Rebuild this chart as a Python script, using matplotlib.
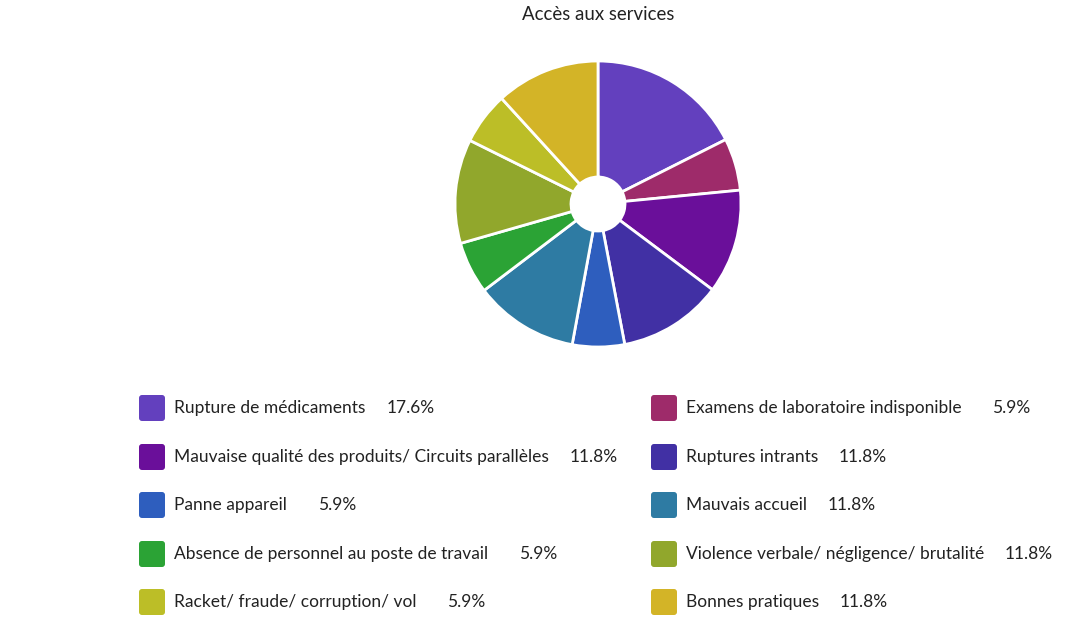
import matplotlib.pyplot as plt
from matplotlib.patches import FancyBboxPatch
from matplotlib.transforms import IdentityTransform

plt.rcParams['font.family'] = ['Lato', 'DejaVu Sans']

# data
labels = ['Rupture de médicaments', 'Examens de laboratoire indisponible',
          'Mauvaise qualité des produits/ Circuits parallèles', 'Ruptures intrants',
          'Panne appareil', 'Mauvais accueil',
          'Absence de personnel au poste de travail', 'Violence verbale/ négligence/ brutalité',
          'Racket/ fraude/ corruption/ vol', 'Bonnes pratiques']
values = [17.6, 5.9, 11.8, 11.8, 5.9, 11.8, 5.9, 11.8, 5.9, 11.8]
colors = ['#6340BE', '#9E2B6A', '#6A0F9A', '#4130A4', '#2E5EBE',
          '#2E7BA3', '#2BA335', '#91A72C', '#BCBE27', '#D3B427']

W, H = 1082, 624
fig = plt.figure(figsize=(W / 100, H / 100), dpi=100)

# pie: centre (598, 204), radius ~143 px
cx, cy, r = 598, 204, 143
ax = fig.add_axes([(cx - r) / W, 1 - (cy + r) / H, 2 * r / W, 2 * r / H])
ax.pie(values, colors=colors, startangle=90, counterclock=False, radius=1,
       wedgeprops=dict(width=1 - 27 / r, edgecolor='white', linewidth=2))
ax.set_xlim(-1, 1)
ax.set_ylim(-1, 1)
ax.set_aspect('equal')
ax.axis('off')

fig.text(cx / W, 1 - 14 / H, 'Accès aux services', ha='center', va='center',
         fontsize=13.4, color='#222222')

# legend, two columns
renderer = fig.canvas.get_renderer()
col_x = [139, 651]
row_y = [408, 457, 505, 554, 602]
for i, (lab, val, col) in enumerate(zip(labels, values, colors)):
    bx = col_x[i % 2]
    by = row_y[i // 2]
    box = FancyBboxPatch((bx, H - by - 13), 26, 26,
                         boxstyle='round,pad=0,rounding_size=3',
                         facecolor=col, edgecolor='none',
                         transform=IdentityTransform())
    fig.add_artist(box)
    t = fig.text((bx + 35) / W, 1 - by / H, lab, ha='left', va='center',
                 fontsize=12.5, color='#222222')
    ext = t.get_window_extent(renderer)
    fig.text((ext.x1 + 69) / W, 1 - by / H, f'{val}%', ha='right', va='center',
             fontsize=12.5, color='#222222')

fig.savefig('out.png', dpi=100)
